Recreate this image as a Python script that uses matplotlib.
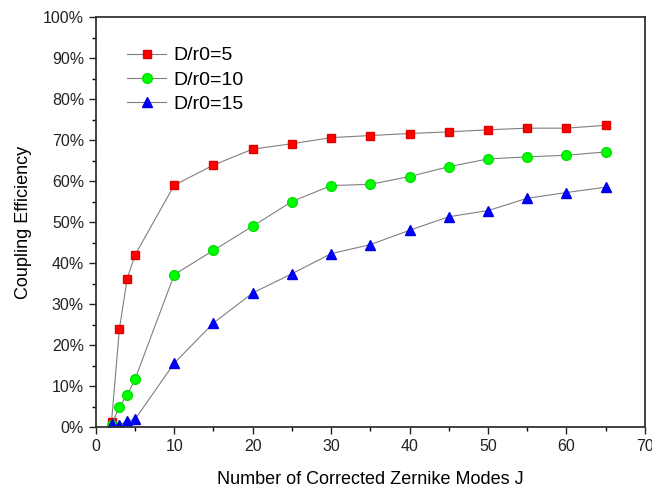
import matplotlib.pyplot as plt
from matplotlib.ticker import MultipleLocator, PercentFormatter

plt.rcParams['font.family'] = ['Liberation Sans', 'DejaVu Sans']

# Corrected Zernike modes J
modes = [2, 3, 4, 5, 10, 15, 20, 25, 30, 35, 40, 45, 50, 55, 60, 65]

# coupling efficiency (%) for each turbulence strength
eff_d5 = [1.3, 23.9, 36.2, 42.0, 59.0, 63.9, 67.8, 69.1, 70.6, 71.1, 71.6, 72.0, 72.5, 72.9, 72.9, 73.6]
eff_d10 = [0.5, 5.0, 7.8, 11.7, 37.2, 43.1, 49.0, 55.0, 58.9, 59.2, 61.1, 63.5, 65.4, 65.9, 66.3, 67.1]
eff_d15 = [0.7, 0.5, 1.5, 1.9, 15.6, 25.4, 32.7, 37.4, 42.3, 44.5, 48.0, 51.3, 52.8, 55.8, 57.2, 58.5]

fig = plt.figure(figsize=(6.52, 4.87), dpi=100)
ax = fig.add_axes([0.147, 0.123, 0.842, 0.842])

line_kw = dict(color='#808080', linewidth=0.8)
ax.plot(modes, eff_d5, marker='s', markersize=6.3, markerfacecolor='#ff0000',
        markeredgecolor='#e00000', label='D/r0=5', **line_kw)
ax.plot(modes, eff_d10, marker='o', markersize=7, markerfacecolor='#00ff00',
        markeredgecolor='#00e000', label='D/r0=10', **line_kw)
ax.plot(modes, eff_d15, marker='^', markersize=7.5, markerfacecolor='#0000ff',
        markeredgecolor='#0000e0', label='D/r0=15', **line_kw)

ax.set_xlim(0, 70)
ax.set_ylim(0, 100)
ax.xaxis.set_major_locator(MultipleLocator(10))
ax.xaxis.set_minor_locator(MultipleLocator(5))
ax.yaxis.set_major_locator(MultipleLocator(10))
ax.yaxis.set_minor_locator(MultipleLocator(5))
ax.yaxis.set_major_formatter(PercentFormatter(decimals=0))

ax.tick_params(axis='both', which='major', direction='out', length=5, width=1,
               labelsize=11.5, colors='#222222')
ax.tick_params(axis='both', which='minor', direction='out', length=3, width=1)
for s in ax.spines.values():
    s.set_linewidth(1.3)
    s.set_color('#333333')

ax.set_xlabel('Number of Corrected Zernike Modes J', fontsize=13, labelpad=12)
ax.set_ylabel('Coupling Efficiency', fontsize=13, labelpad=8)

ax.legend(loc='upper left', bbox_to_anchor=(0.025, 0.97), frameon=False,
          fontsize=14, handlelength=2.0, handletextpad=0.4, labelspacing=0.35)

fig.savefig('out.png', dpi=100)
